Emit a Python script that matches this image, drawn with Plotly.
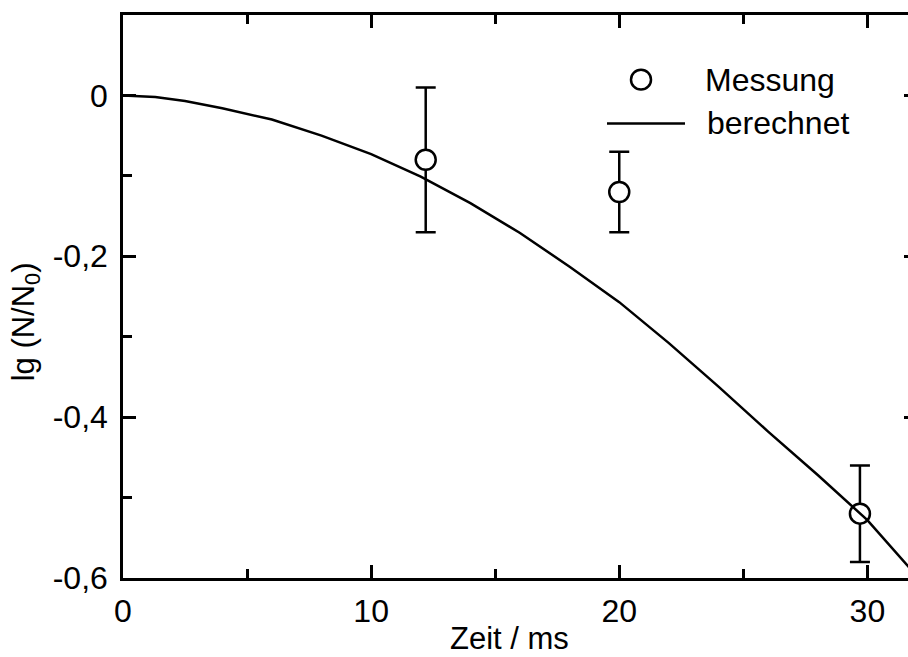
import plotly.graph_objects as go

# Measured values with symmetric uncertainties
t_mess = [12.2, 20.0, 29.7]
lg_mess = [-0.08, -0.12, -0.52]
lg_err = [0.09, 0.05, 0.06]

# Calculated curve
t_calc = [0, 1.3, 2.5, 4, 6, 8, 10, 12, 14, 16, 18, 20, 22, 24, 26, 28, 30, 32]
lg_calc = [0.0, -0.002, -0.007, -0.016, -0.030, -0.050, -0.073, -0.101, -0.134,
           -0.171, -0.213, -0.257, -0.308, -0.362, -0.418, -0.472, -0.528, -0.598]

x_tickvals = [0, 10, 20, 30]
x_ticktext = ["0", "10", "20", "30"]
y_tickvals = [-0.6, -0.4, -0.2, 0.0]
y_ticktext = ["-0,6", "-0,4", "-0,2", "0"]

FONT = "Liberation Sans, Arial, sans-serif"
FS = 32
LW = 2.5

# page geometry (px)
W, H = 940, 657
L, T, B, R = 123, 12, 578, 917


def px(xp):
    return (xp - L) / (R - L)


def py(yp):
    return (B - yp) / (B - T)


fig = go.Figure()

fig.add_trace(go.Scatter(
    x=t_mess, y=lg_mess, mode="markers", name="Messung",
    marker=dict(symbol="circle", size=20, color="white",
                line=dict(color="black", width=LW)),
    error_y=dict(type="data", array=lg_err, visible=True,
                 color="black", thickness=LW, width=10),
    showlegend=False,
))

fig.add_trace(go.Scatter(
    x=t_calc, y=lg_calc, mode="lines", name="berechnet",
    line=dict(color="black", width=LW),
    showlegend=False,
))

axis_common = dict(
    showline=True, linecolor="black", linewidth=LW, mirror="allticks",
    ticks="inside", ticklen=13, tickwidth=LW, tickcolor="black",
    showgrid=False, zeroline=False,
    tickfont=dict(family=FONT, size=FS, color="black"),
)

fig.update_xaxes(
    range=[0, 32], tickvals=x_tickvals, ticktext=x_ticktext,
    minor=dict(dtick=5, tick0=0, ticks="inside", ticklen=9, tickwidth=LW,
               tickcolor="black", showgrid=False),
    ticklabelstandoff=3,
    **axis_common,
)
fig.update_yaxes(
    range=[-0.6, 0.1], tickvals=y_tickvals, ticktext=y_ticktext,
    minor=dict(dtick=0.1, tick0=0, ticks="inside", ticklen=9, tickwidth=LW,
               tickcolor="black", showgrid=False),
    ticklabelstandoff=6,
    **axis_common,
)

# axis titles
fig.add_annotation(text="Zeit / ms", xref="paper", yref="paper",
                   x=px(509), y=py(639), xanchor="center", yanchor="middle",
                   showarrow=False, font=dict(family=FONT, size=FS - 1, color="black"))
fig.add_annotation(text="lg (N/N<sub>0</sub>)", xref="paper", yref="paper",
                   x=px(26), y=py(321), xanchor="center", yanchor="middle",
                   textangle=-90, showarrow=False,
                   font=dict(family=FONT, size=FS - 1, color="black"))

# legend
r = 10
fig.add_shape(type="circle", xref="paper", yref="paper",
              x0=px(641 - r), x1=px(641 + r), y0=py(77 + r), y1=py(77 - r),
              line=dict(color="black", width=LW), fillcolor="white")
fig.add_shape(type="line", xref="paper", yref="paper",
              x0=px(607), x1=px(685), y0=py(121), y1=py(121),
              line=dict(color="black", width=LW))
fig.add_annotation(text="Messung", xref="paper", yref="paper",
                   x=px(703), y=py(77), xanchor="left", yanchor="middle",
                   showarrow=False, font=dict(family=FONT, size=FS, color="black"))
fig.add_annotation(text="berechnet", xref="paper", yref="paper",
                   x=px(705), y=py(121), xanchor="left", yanchor="middle",
                   showarrow=False, font=dict(family=FONT, size=FS, color="black"))

fig.update_layout(
    width=W, height=H,
    margin=dict(l=L, r=W - R, t=T, b=H - B),
    paper_bgcolor="white", plot_bgcolor="white",
    font=dict(family=FONT, size=FS, color="black"),
    showlegend=False,
)

fig.write_html("out.html",
               post_script="document.body.style.margin='0';document.body.style.overflow='hidden';")
